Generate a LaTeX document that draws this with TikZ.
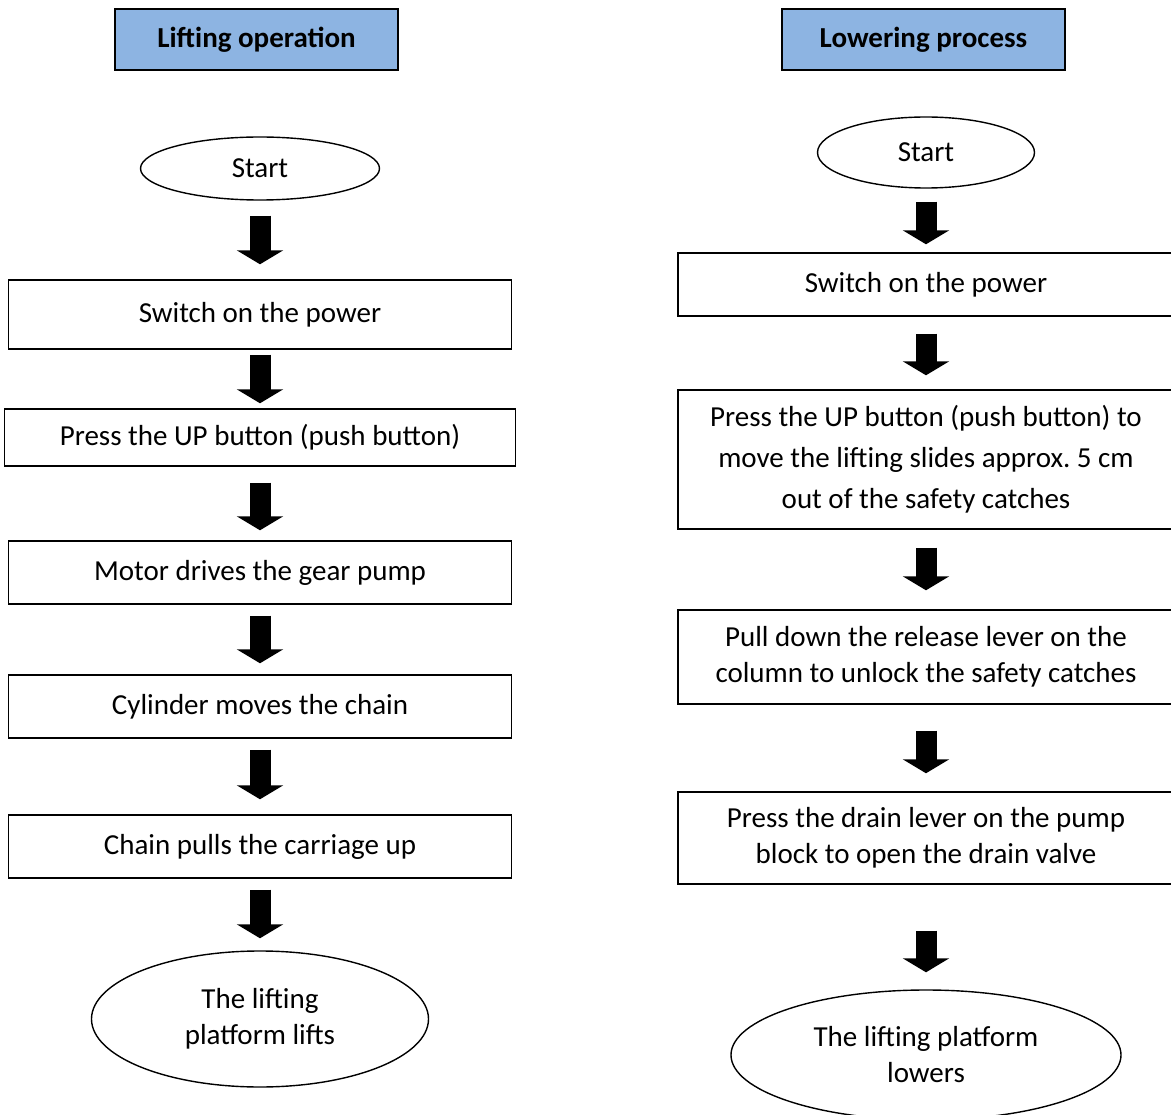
\documentclass[tikz,border=0pt]{standalone}
\usepackage{fontspec}
\setmainfont{Carlito}
\usetikzlibrary{shapes.geometric,arrows.meta}
\definecolor{headblue}{RGB}{141,180,226}
\tikzset{
  headbox/.style={draw, line width=1.6pt, fill=headblue, minimum width=283pt, minimum height=61pt, inner sep=0pt, font=\fontsize{29}{36}\selectfont\bfseries},
  stepbox/.style={draw, line width=1.4pt, inner sep=0pt, align=center},
  termnode/.style={draw, ellipse, line width=1.4pt, inner sep=0pt, align=center},
  blockarr/.style={line width=21pt, -{Triangle[width=46pt,length=14pt]}}
}

\begin{document}
\begin{tikzpicture}[x=1pt,y=1pt,font=\fontsize{29}{36}\selectfont]
  \useasboundingbox (0,0) rectangle (1171,-1115);
  \clip (0,0) rectangle (1171,-1115);

  % lifting
  \node[headbox] (headL) at (256.5,-39.5) {Lifting operation};
  \node[termnode, minimum width=239pt, minimum height=63pt] (startL) at (260,-168.5) {Start};
  \node[stepbox, minimum width=503pt, minimum height=69pt] (powerL) at (260,-314.5) {Switch on the power};
  \node[stepbox, minimum width=511pt, minimum height=57pt] (upL) at (260,-437.5) {Press the UP button (push button)};
  \node[stepbox, minimum width=503pt, minimum height=63pt] (motorL) at (260,-572.5) {Motor drives the gear pump};
  \node[stepbox, minimum width=503pt, minimum height=63pt] (cylL) at (260,-706.5) {Cylinder moves the chain};
  \node[stepbox, minimum width=503pt, minimum height=63pt] (chainL) at (260,-846.5) {Chain pulls the carriage up};
  \node[termnode, minimum width=337pt, minimum height=136pt] (endL) at (260,-1019) {The lifting\\platform lifts};

  \draw[blockarr, shorten <=15pt, shorten >=15pt] (startL) -- (powerL);
  \draw[blockarr, shorten <=5pt, shorten >=5pt] (powerL) -- (upL);
  \draw[blockarr, shorten <=16pt, shorten >=10pt] (upL) -- (motorL);
  \draw[blockarr, shorten <=11pt, shorten >=11pt] (motorL) -- (cylL);
  \draw[blockarr, shorten <=11pt, shorten >=15pt] (cylL) -- (chainL);
  \draw[blockarr, shorten <=11pt, shorten >=12pt] (chainL) -- (endL);

  % lowering
  \node[headbox] (headR) at (923.5,-39.5) {Lowering process};
  \node[termnode, minimum width=217pt, minimum height=71pt] (startR) at (926,-152.5) {Start};
  \node[stepbox, minimum width=496pt, minimum height=63pt] (powerR) at (926,-284.5) {Switch on the power};
  \node[stepbox, minimum width=496pt, minimum height=139pt, font=\fontsize{29}{41}\selectfont] (upR) at (926,-459.5) {Press the UP button (push button) to\\move the lifting slides approx.\ 5 cm\\out of the safety catches};
  \node[stepbox, minimum width=496pt, minimum height=94pt] (leverR) at (926,-657) {Pull down the release lever on the\\column to unlock the safety catches};
  \node[stepbox, minimum width=496pt, minimum height=92pt] (drainR) at (926,-838) {Press the drain lever on the pump\\block to open the drain valve};
  \node[termnode, minimum width=390pt, minimum height=130pt] (endR) at (926,-1055) {The lifting platform\\lowers};

  \draw[blockarr, shorten <=13pt, shorten >=8pt] (startR) -- (powerR);
  \draw[blockarr, shorten <=17pt, shorten >=14pt] (powerR) -- (upR);
  \draw[blockarr, shorten <=18pt, shorten >=19pt] (upR) -- (leverR);
  \draw[blockarr, shorten <=26pt, shorten >=18pt] (leverR) -- (drainR);
  \draw[blockarr, shorten <=46pt, shorten >=17pt] (drainR) -- (endR);
\end{tikzpicture}
\end{document}
